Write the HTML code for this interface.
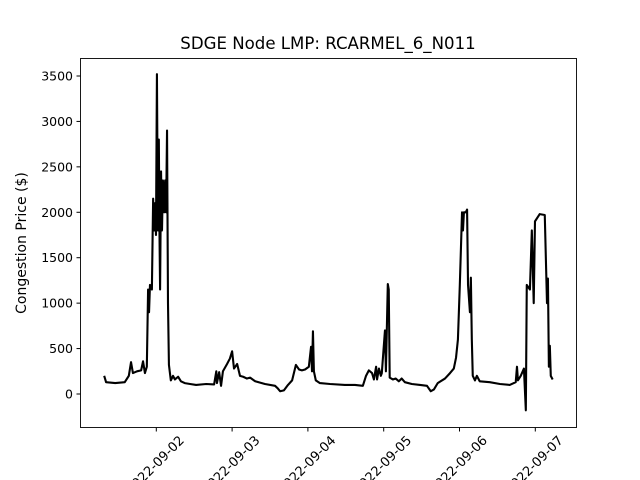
<!DOCTYPE html>
<html><head><meta charset="utf-8"><style>body{margin:0;background:#fff}svg{display:block;font-family:"DejaVu Sans","Liberation Sans",sans-serif}</style></head>
<body>
<svg id="chart" width="640" height="480" viewBox="0 0 640 480" xmlns="http://www.w3.org/2000/svg">
<rect width="640" height="480" fill="#fff"/>
<text x="328" y="49" font-size="16.6" text-anchor="middle">SDGE Node LMP: RCARMEL_6_N011</text>
<text transform="translate(26,243) rotate(-90)" font-size="14" text-anchor="middle">Congestion Price ($)</text>
<g id="ticks"></g>
<path id="series" fill="none" stroke="#000" stroke-width="2.1" stroke-linejoin="round"/>
<rect x="80.5" y="58.5" width="496" height="369" fill="none" stroke="#000" stroke-width="0.9"/>
</svg>
<script>
// hours since 2022-09-01 00:00
const hours = [31.5,32.1,35,38,39.3,40,40.6,41.9,43.2,43.8,44.4,45,45.4,45.7,46,46.6,47,47.3,47.6,47.9,48.2,48.5,48.8,49,49.2,49.5,49.8,50.1,50.5,50.8,51.1,51.4,51.7,52,52.6,53.3,53.9,54.9,55.8,57,58.7,60.6,63.8,66.3,67,67.2,67.9,68.5,69.1,70.4,71.3,72,72.6,73.6,74.5,75.5,76.7,77.7,79.3,82.4,85.6,86.5,87.2,88.4,89.7,91,92.2,93.2,94.1,95.1,96.3,97,97.3,97.6,97.9,98.5,99.8,103,107.7,110.9,113.4,114.4,115.3,116.3,116.9,117.6,117.9,118.5,119.1,119.4,120.4,120.7,121.3,121.6,121.9,122.9,123.8,124.8,125.7,126.7,128.9,131.5,133.7,134.9,135.9,137.1,139.4,141,142.2,142.9,143.5,144.1,144.8,145.1,145.4,146,146.4,146.7,147.3,147.6,147.9,148.2,148.9,149.5,150.4,153.6,156.8,159.9,161.8,162.2,162.5,163.4,164.4,165,165.3,166.3,166.9,167.5,167.9,169.4,171,171.7,172,172.3,172.6,172.9,173.5];
const prices = [200,130,120,130,200,350,230,250,260,360,230,300,1150,900,1200,1150,2150,1800,2100,1750,3520,1800,2800,1800,1150,2450,1800,2350,2000,2350,2000,2900,1000,320,150,200,160,190,140,120,110,100,110,105,250,120,240,90,250,330,390,470,280,330,200,190,170,180,140,110,90,60,30,40,100,150,320,270,260,270,300,520,250,690,250,150,120,110,100,100,90,200,260,230,160,300,160,280,200,230,700,250,1210,1150,180,160,170,140,170,130,110,100,90,30,50,120,170,230,280,400,600,1200,2000,1800,2000,2000,2030,1200,900,1280,600,200,150,200,140,130,110,100,130,300,150,200,280,-180,1200,1150,1800,1000,1900,1980,1970,1000,1270,300,530,200,160];
const yTicks = [0,500,1000,1500,2000,2500,3000,3500];
const xTickHours = [48,72,96,120,144,168];
const xTickLabels = ["2022-09-02","2022-09-03","2022-09-04","2022-09-05","2022-09-06","2022-09-07"];

const xs = h => 156.3 + (h - 48) * (75.8 / 24);
const ys = v => 394 - v * (45.43 / 500);
const NS = "http://www.w3.org/2000/svg";
let d = "";
for (let i = 0; i < hours.length; i++) d += (i ? "L" : "M") + xs(hours[i]).toFixed(2) + " " + ys(prices[i]).toFixed(2);
document.getElementById("series").setAttribute("d", d);
const g = document.getElementById("ticks");
yTicks.forEach(v => {
  const y = ys(v);
  const l = document.createElementNS(NS, "line");
  l.setAttribute("x1", 76.5); l.setAttribute("x2", 80.5); l.setAttribute("y1", y); l.setAttribute("y2", y); l.setAttribute("stroke", "#000");
  
  
  g.appendChild(l);
  const t = document.createElementNS(NS, "text");
  t.setAttribute("x", 73); t.setAttribute("y", y + 4.5); t.setAttribute("text-anchor", "end"); t.setAttribute("font-size", "12.5");
  t.textContent = v;
  
  
  g.appendChild(t);
});
xTickHours.forEach((h, i) => {
  const x = xs(h);
  const l = document.createElementNS(NS, "line");
  l.setAttribute("x1", x); l.setAttribute("x2", x); l.setAttribute("y1", 427.5); l.setAttribute("y2", 431.5); l.setAttribute("stroke", "#000");
  
  
  g.appendChild(l);
  const t = document.createElementNS(NS, "text");
  t.setAttribute("transform", "translate(" + (x - 1) + ",465) rotate(-45)");
  t.setAttribute("text-anchor", "middle"); t.setAttribute("font-size", "13"); t.setAttribute("dy", "4");
  t.textContent = xTickLabels[i];
  
  
  g.appendChild(t);
});
</script>
</body></html>
